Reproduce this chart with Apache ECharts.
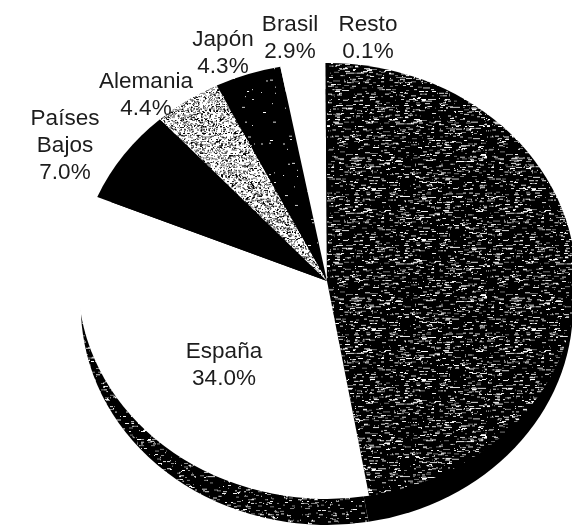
<!DOCTYPE html>
<html>
<head>
<meta charset="utf-8">
<script src="https://cdn.jsdelivr.net/npm/echarts@6/dist/echarts.min.js"></script>
<style>
  html, body { margin: 0; padding: 0; background: #fff; }
  #main { width: 572px; height: 525px; }
</style>
</head>
<body>
<div id="main"></div>
<script>
// clockwise from 12 o'clock, the big dark slice has no label in the original
var categories = ['', 'España', 'Países Bajos', 'Alemania', 'Japón', 'Brasil', 'Resto'];
var values = [47.3, 34.0, 7.0, 4.4, 4.3, 2.9, 0.1];

// geometry of the tilted pie
var CX = 327, CY = 281, RX = 249, RY = 218, DEPTH = 26;

// short dashes on a solid colour, like the scanned halftone
function makeTexture(bg, colors, density, maxLen, seed) {
  var size = 160;
  var c = document.createElement('canvas');
  c.width = size;
  c.height = size;
  var ctx = c.getContext('2d');
  ctx.fillStyle = bg;
  ctx.fillRect(0, 0, size, size);
  var s = seed;
  function next() {
    s = (s * 1103515245 + 12345) % 2147483648;
    return s / 2147483648;
  }
  for (var y = 0; y < size; y++) {
    for (var x = 0; x < size; x++) {
      if (next() < density) {
        ctx.fillStyle = colors[Math.floor(next() * colors.length)];
        ctx.fillRect(x, y, 1 + Math.floor(next() * maxLen), 1);
      }
    }
  }
  return { image: c, repeat: 'repeat' };
}

var darkTex = makeTexture('#000', ['#fff', '#fff', '#8a8a8a'], 0.055, 5, 7);
var stippleTex = makeTexture('#fff', ['#000', '#555', '#888'], 0.26, 2, 23);
var specksTex = makeTexture('#000', ['#fff'], 0.004, 4, 41);
var sideTex = makeTexture('#000', ['#fff', '#999'], 0.045, 4, 59);

var topFills = [darkTex, '#fff', '#000', stippleTex, specksTex, '#fff', '#000'];
var sideFills = ['#000', sideTex, '#000', '#000', '#000', '#000', '#000'];

// centre of each text block
var labelPos = [null, [224, 365], [65, 146], [146, 95], [223, 53], [290, 38], [368, 38]];

function sliceAngles(i) {
  var total = values.reduce(function (a, b) { return a + b; }, 0);
  var before = values.slice(0, i).reduce(function (a, b) { return a + b; }, 0);
  var start = -Math.PI / 2 + before / total * Math.PI * 2;
  return [start, start + values[i] / total * Math.PI * 2];
}

function sliceItem(fills, offsetY, radius) {
  return function (params) {
    var a = sliceAngles(params.dataIndex);
    return {
      type: 'sector',
      x: CX,
      y: CY + offsetY,
      scaleY: RY / radius,
      shape: { cx: 0, cy: 0, r0: 0, r: radius, startAngle: a[0], endAngle: a[1], clockwise: true },
      style: { fill: fills[params.dataIndex] }
    };
  };
}

function labelItem(params) {
  var i = params.dataIndex;
  if (!labelPos[i]) return null;
  return {
    type: 'text',
    x: labelPos[i][0],
    y: labelPos[i][1],
    style: {
      // Países Bajos breaks over two lines
      text: categories[i].replace(' ', '\n') + '\n' + values[i].toFixed(1) + '%',
      fill: '#1c1c1c',
      font: '22.5px "Liberation Sans", Arial, sans-serif',
      lineHeight: 27,
      align: 'center',
      verticalAlign: 'middle'
    }
  };
}

var chart = echarts.init(document.getElementById('main'), null, { width: 572, height: 525 });
var option = {
  animation: false,
  backgroundColor: '#fff',
  series: [
    { type: 'custom', coordinateSystem: 'none', z: 1, silent: true, data: values, renderItem: sliceItem(sideFills, DEPTH, RX - 3) },
    { type: 'custom', coordinateSystem: 'none', z: 2, silent: true, data: values, renderItem: sliceItem(topFills, 0, RX) },
    { type: 'custom', coordinateSystem: 'none', z: 3, silent: true, data: values, renderItem: labelItem }
  ]
};
chart.setOption(option);
</script>
</body>
</html>
